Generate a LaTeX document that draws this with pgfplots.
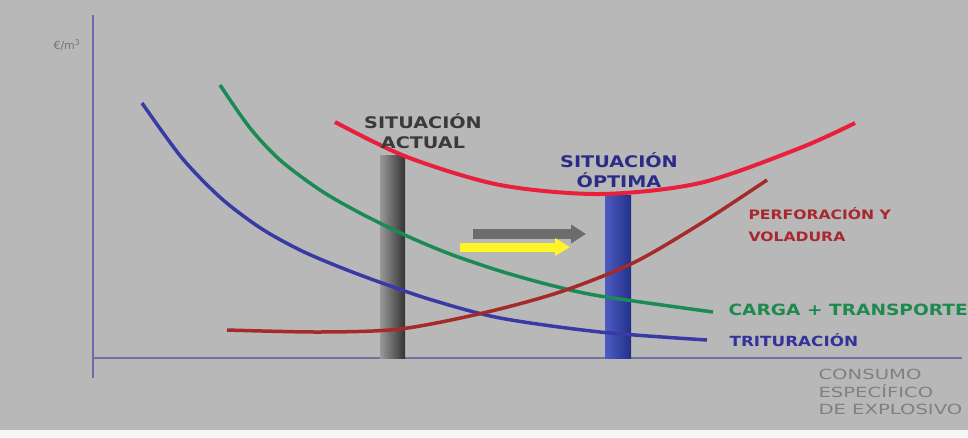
\documentclass[border=0pt]{standalone}
\usepackage{pgfplots}
\pgfplotsset{compat=1.18}
\usepackage{fontspec}
\setmainfont{DejaVu Sans}
\newfontfamily\widebold[FakeStretch=1.2]{DejaVu Sans Bold}
\newfontfamily\wideplain[FakeStretch=1.4]{DejaVu Sans}
\usetikzlibrary{arrows.meta}
\definecolor{bg}{HTML}{B8B8B8}
\definecolor{axisline}{HTML}{6C6CAA}
\definecolor{trit}{HTML}{3A3AA6}
\definecolor{carga}{HTML}{1B8A55}
\definecolor{perf}{HTML}{A52A2A}
\definecolor{total}{HTML}{E8203C}
\definecolor{optima}{HTML}{2E3FB8}
\definecolor{actualtxt}{HTML}{3A3A3A}
\definecolor{optimatxt}{HTML}{2C2C86}
\definecolor{perftxt}{HTML}{A8282E}
\definecolor{cargatxt}{HTML}{1F8A4E}
\definecolor{trittxt}{HTML}{33339A}
\begin{document}
\begin{tikzpicture}
\clip (0,0) rectangle (968pt,437pt);
\begin{axis}[x=1pt, y=1pt, xmin=0, xmax=968, ymin=0, ymax=437, y dir=reverse,
  hide axis, clip=false, anchor=south west, at={(0,0)}]
% background
\addplot[fill=bg, draw=none] coordinates {(0,0) (968,0) (968,437) (0,437)} -- cycle;
\addplot[fill=white!88!bg, draw=none] coordinates {(0,430) (968,430) (968,437) (0,437)} -- cycle;
% axes
\addplot[axisline, line width=2.2pt] coordinates {(93,15) (93,378)};
\addplot[axisline!70!gray, line width=2pt] coordinates {(93,358) (962,358)};
% bars
\addplot[draw=none, left color=black!40, right color=black!80] coordinates {(380,155) (405,155) (405,358) (380,358)} -- cycle;
\addplot[draw=none, left color=optima!85!white, right color=optima!75!black] coordinates {(605,195) (631,195) (631,358) (605,358)} -- cycle;
% cost curves
\addplot[trit, line width=3.5pt, smooth] coordinates {
 (142,103) (182,158) (222,199) (262,229) (302,251) (342,268) (382,283)
 (432,300) (500,318) (600,332) (707,340)};
\addplot[carga, line width=3.5pt, smooth] coordinates {
 (220,85) (250,128) (280,160) (320,190) (360,213) (407,236) (450,254)
 (500,271) (550,285) (600,296) (713,312)};
\addplot[perf, line width=3.5pt, smooth] coordinates {
 (227,330) (320,332) (400,329) (483,313) (560,292) (633,263) (700,224) (767,180)};
\addplot[total, line width=4pt, smooth] coordinates {
 (335,122) (407,157) (500,185) (600,194) (700,183) (800,148) (855,123)};
% arrows
\addplot[gray!85!black, line width=10pt, -{Triangle[length=15pt,width=18pt]}] coordinates {(473,234) (586,234)};
\addplot[yellow!85!white, line width=9pt, -{Triangle[length=15pt,width=17pt]}] coordinates {(460,247) (570,247)};
% labels
\node[anchor=west, font=\fontsize{11}{12}\selectfont, text=black!55] at (axis cs:50,45) {€/m\textsuperscript{3}};
\node[align=center, font=\widebold\fontsize{16}{20}\selectfont, text=actualtxt] at (axis cs:423,131) {SITUACIÓN\\ACTUAL};
\node[align=center, font=\widebold\fontsize{16}{20}\selectfont, text=optimatxt] at (axis cs:619,170) {SITUACIÓN\\ÓPTIMA};
\node[align=left, anchor=west, font=\widebold\fontsize{13}{22}\selectfont, text=perftxt] at (axis cs:745,225) {PERFORACIÓN Y\\VOLADURA};
\node[anchor=west, font=\widebold\fontsize{15.5}{17}\selectfont, text=cargatxt] at (axis cs:725,310) {CARGA + TRANSPORTE};
\node[anchor=west, font=\widebold\fontsize{14}{16}\selectfont, text=trittxt] at (axis cs:726,340) {TRITURACIÓN};
\node[align=left, anchor=north west, font=\wideplain\fontsize{14}{17.5}\selectfont, text=black!50] at (axis cs:815,366) {CONSUMO\\ESPECÍFICO\\DE EXPLOSIVO};
\end{axis}
\end{tikzpicture}
\end{document}
